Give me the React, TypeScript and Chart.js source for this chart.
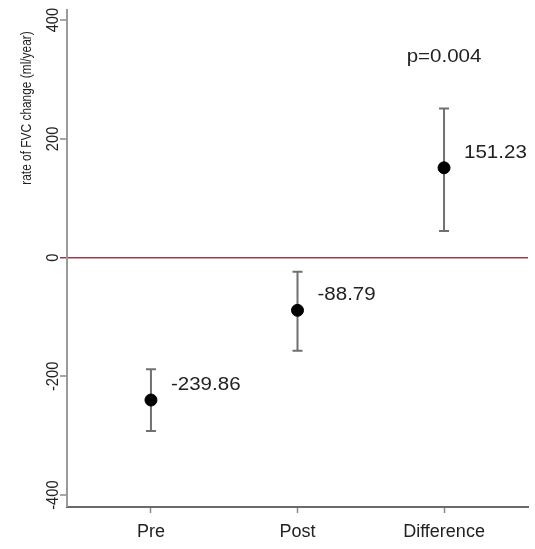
import React, { useEffect, useRef } from "react";
import { Chart, registerables } from "chart.js";

Chart.register(...registerables);

const categories = ["Pre", "Post", "Difference"];
const positions = [1, 2, 3];
const estimates = [-239.86, -88.79, 151.23];
const ciLower = [-292, -157, 45];
const ciUpper = [-188, -24, 251];
const valueLabels = ["-239.86", "-88.79", "151.23"];
const yTicks = [-400, -200, 0, 200, 400];
const yTitle = "rate of FVC change (ml/year)";
const pValueText = "p=0.004";
const pValuePos = { x: 3, y: 330 };

const FONT = '"Liberation Sans", Arial, Helvetica, sans-serif';

function drawText(ctx: any, text: string, x: number, y: number, align: string, rot: number, sx: number) {
  ctx.save();
  ctx.translate(x, y);
  ctx.rotate(rot);
  ctx.scale(sx, 1);
  ctx.textAlign = align;
  ctx.textBaseline = "alphabetic";
  ctx.fillText(text, 0, 0);
  ctx.restore();
}

const overlayPlugin = {
  id: "overlay",
  beforeDatasetsDraw(chart: any) {
    const { ctx, scales } = chart;
    const xs = scales.x;
    const ys = scales.y;
    ctx.save();
    ctx.strokeStyle = "#707070";
    ctx.lineWidth = 2;
    for (let i = 0; i < positions.length; i++) {
      const px = xs.getPixelForValue(positions[i]);
      const lo = ys.getPixelForValue(ciLower[i]);
      const hi = ys.getPixelForValue(ciUpper[i]);
      ctx.beginPath();
      ctx.moveTo(px, lo);
      ctx.lineTo(px, hi);
      ctx.moveTo(px - 5, lo);
      ctx.lineTo(px + 5, lo);
      ctx.moveTo(px - 5, hi);
      ctx.lineTo(px + 5, hi);
      ctx.stroke();
    }
    ctx.restore();
  },
  afterDraw(chart: any) {
    const { ctx, scales } = chart;
    const xs = scales.x;
    const ys = scales.y;
    ctx.save();
    ctx.fillStyle = "#222";
    ctx.font = `18px ${FONT}`;
    for (let i = 0; i < positions.length; i++) {
      const px = xs.getPixelForValue(positions[i]);
      const py = ys.getPixelForValue(estimates[i]);
      drawText(ctx, valueLabels[i], px + 20, py - 10, "left", 0, 1.14);
    }
    ctx.font = `18px ${FONT}`;
    drawText(ctx, pValueText, xs.getPixelForValue(pValuePos.x), ys.getPixelForValue(pValuePos.y), "center", 0, 1.14);
    ctx.font = `16px ${FONT}`;
    for (const v of yTicks) {
      drawText(ctx, String(v), 58, ys.getPixelForValue(v), "center", -Math.PI / 2, 0.92);
    }
    ctx.font = `14px ${FONT}`;
    drawText(ctx, yTitle, 31, 108, "center", -Math.PI / 2, 0.85);
    ctx.restore();
  },
};

export default function App() {
  const ref = useRef<HTMLCanvasElement | null>(null);
  useEffect(() => {
    if (!ref.current) return;
    const chart = new Chart(ref.current, {
      type: "scatter",
      data: {
        datasets: [
          {
            data: positions.map((p, i) => ({ x: p, y: estimates[i] })),
            backgroundColor: "#000",
            borderColor: "#000",
            pointRadius: 6,
            pointHoverRadius: 6,
          },
        ],
      },
      options: {
        animation: false,
        responsive: false,
        events: [],
        layout: { padding: { left: 0, top: 10, right: 7, bottom: 0 } },
        plugins: { legend: { display: false }, tooltip: { enabled: false } },
        scales: {
          x: {
            type: "linear",
            min: 0.427,
            max: 3.573,
            afterBuildTicks: (axis: any) => {
              axis.ticks = positions.map((v) => ({ value: v }));
            },
            afterFit: (scale: any) => {
              scale.height = 42;
            },
            border: { display: true, color: "#6a6a6a", width: 2 },
            grid: {
              drawOnChartArea: false,
              drawTicks: true,
              tickLength: 6,
              tickColor: "#8a8a8a",
              tickWidth: 1.5,
            },
            ticks: {
              autoSkip: false,
              maxRotation: 0,
              minRotation: 0,
              padding: 8,
              color: "#222",
              font: { family: FONT, size: 18 },
              callback: (v: any) => {
                const idx = positions.indexOf(Number(v));
                return idx >= 0 ? categories[idx] : "";
              },
            },
          },
          y: {
            type: "linear",
            min: -420,
            max: 417,
            afterBuildTicks: (axis: any) => {
              axis.ticks = yTicks.map((v) => ({ value: v }));
            },
            afterFit: (scale: any) => {
              scale.width = 67;
            },
            border: { display: true, color: "#9a9a9a", width: 2 },
            grid: {
              drawOnChartArea: true,
              drawTicks: true,
              tickLength: 7,
              lineWidth: (c: any) => (c.tick && c.tick.value === 0 ? 1.5 : 0),
              color: (c: any) =>
                c.tick && c.tick.value === 0 ? "#9b3a4c" : "rgba(0,0,0,0)",
              tickColor: (c: any) =>
                c.tick && c.tick.value === 0 ? "#9b3a4c" : "#8a8a8a",
              tickWidth: 1.5,
            },
            ticks: { display: false },
          },
        },
      },
      plugins: [overlayPlugin],
    });
    return () => chart.destroy();
  }, []);
  return (
    <div style={{ position: "absolute", left: 0, top: 0, width: 535, height: 549, background: "#fff" }}>
      <canvas ref={ref} width={535} height={549} style={{ display: "block" }} />
    </div>
  );
}
